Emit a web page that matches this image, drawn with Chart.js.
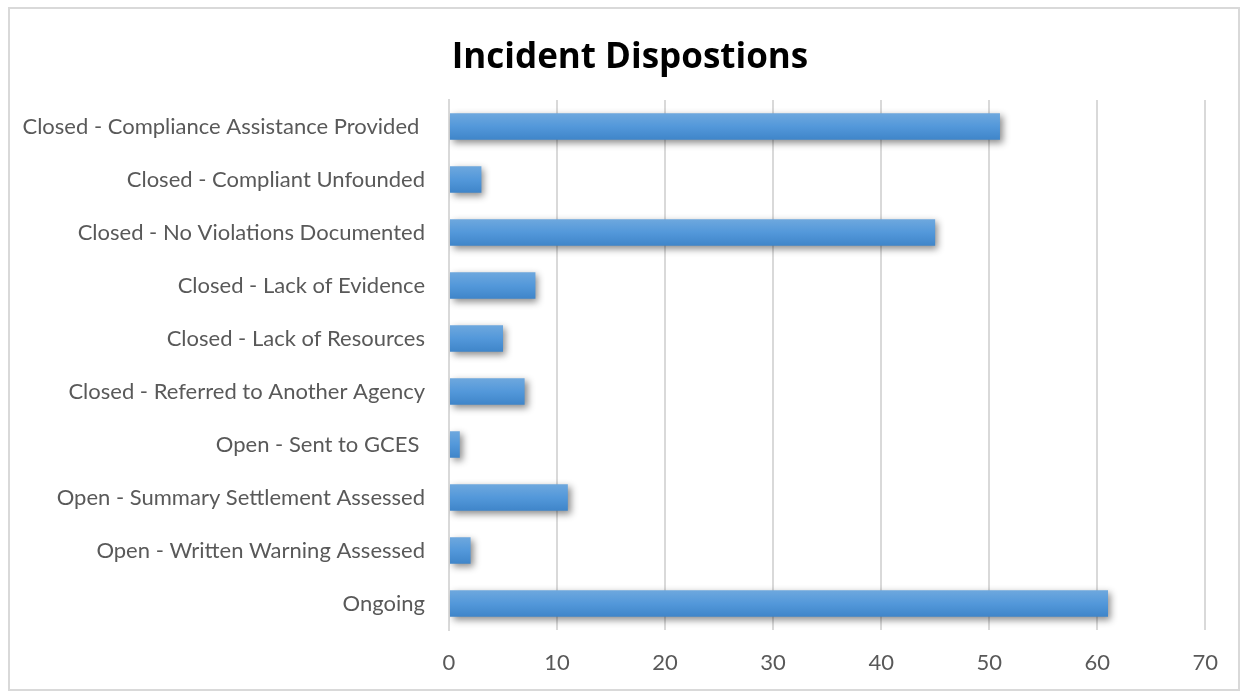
<!DOCTYPE html>
<html lang="en">
  <head>
    <meta charset="UTF-8" />
    <title>Incident Dispostions</title>
    <style>
      body {
          margin: 0;
          background-color: white;
      }
      #frame {
          position: absolute;
          left: 8px;
          top: 7px;
          width: 1232px;
          height: 684px;
          border: 2px solid #d9d9d9;
          box-sizing: border-box;
      }
    </style>
    <script src="https://cdn.jsdelivr.net/npm/chart.js@4.4.0/dist/chart.umd.min.js"></script>
  </head>
  <body>
    <div id="frame"><canvas id="dispositionChart" width="1228" height="680"></canvas></div>
    <script>
      var categories = [
        "Closed - Compliance Assistance Provided ",
        "Closed - Compliant Unfounded",
        "Closed - No Violations Documented",
        "Closed - Lack of Evidence",
        "Closed - Lack of Resources",
        "Closed - Referred to Another Agency",
        "Open - Sent to GCES ",
        "Open - Summary Settlement Assessed",
        "Open - Written Warning Assessed",
        "Ongoing",
      ];
      var incidentCounts = [51, 3, 45, 8, 5, 7, 1, 11, 2, 61];
      var xTicks = [0, 10, 20, 30, 40, 50, 60, 70];

      var labelFont = "Lato";

      // vertical gradient per bar, worked out from the y scale
      const barGradient = (ctx) => {
        let chart = ctx.chart;
        let yScale = chart.scales.y;
        if (!chart.chartArea || !yScale || ctx.dataIndex === undefined) return "#5398da";
        let center = yScale.getPixelForValue(ctx.dataIndex);
        let half = (yScale.height / categories.length) * 0.5 / 2;
        if (!isFinite(center) || !isFinite(half)) return "#5398da";
        let g = chart.ctx.createLinearGradient(0, center - half, 0, center + half);
        g.addColorStop(0, "#6ea8de");
        g.addColorStop(0.5, "#5398da");
        g.addColorStop(1, "#3f85c9");
        return g;
      };

      const barShadow = {
        id: "barShadow",
        beforeDatasetsDraw(chart) {
          let c = chart.ctx;
          c.save();
          c.shadowColor = "rgba(0, 0, 0, 0.45)";
          c.shadowBlur = 7;
          c.shadowOffsetX = 3;
          c.shadowOffsetY = 3;
        },
        afterDatasetsDraw(chart) {
          chart.ctx.restore();
        },
      };

      // title sits a little right of the canvas centre in the original
      const titleNudge = {
        id: "titleNudge",
        afterLayout(chart) {
          if (chart.titleBlock) chart.titleBlock.left += 38;
        },
      };

      var dispositionChart = new Chart(document.getElementById("dispositionChart"), {
        type: "bar",
        data: {
          labels: categories,
          datasets: [
            {
              label: "Incidents",
              data: incidentCounts,
              backgroundColor: barGradient,
              borderWidth: 0,
              categoryPercentage: 1,
              barPercentage: 0.5,
            },
          ],
        },
        options: {
          indexAxis: "y",
          responsive: false,
          animation: false,
          devicePixelRatio: 1,
          layout: {
            padding: { left: 0, right: 26, top: 0, bottom: 0 },
          },
          plugins: {
            legend: { display: false },
            tooltip: { enabled: false },
            title: {
              display: true,
              text: "Incident Dispostions",
              color: "#000000",
              font: { family: "Open Sans", size: 35, weight: "bold" },
              padding: { top: 28, bottom: 21 },
            },
          },
          scales: {
            x: {
              min: 0,
              max: 70,
              afterBuildTicks: (scale) => {
                scale.ticks = xTicks.map((v) => ({ value: v }));
              },
              afterFit: (scale) => {
                scale.height = 59;
              },
              grid: {
                color: "#d9d9d9",
                lineWidth: 2,
                drawTicks: false,
              },
              border: { display: false },
              ticks: {
                color: "#595959",
                padding: 20,
                font: { family: labelFont, size: 22 },
              },
            },
            y: {
              afterFit: (scale) => {
                scale.width = 439;
              },
              grid: { display: false, drawTicks: false },
              border: { color: "#d9d9d9", width: 2 },
              ticks: {
                color: "#595959",
                padding: 24,
                font: { family: labelFont, size: 22 },
              },
            },
          },
        },
        plugins: [barShadow, titleNudge],
      });
      dispositionChart.update();
    </script>
  </body>
</html>
